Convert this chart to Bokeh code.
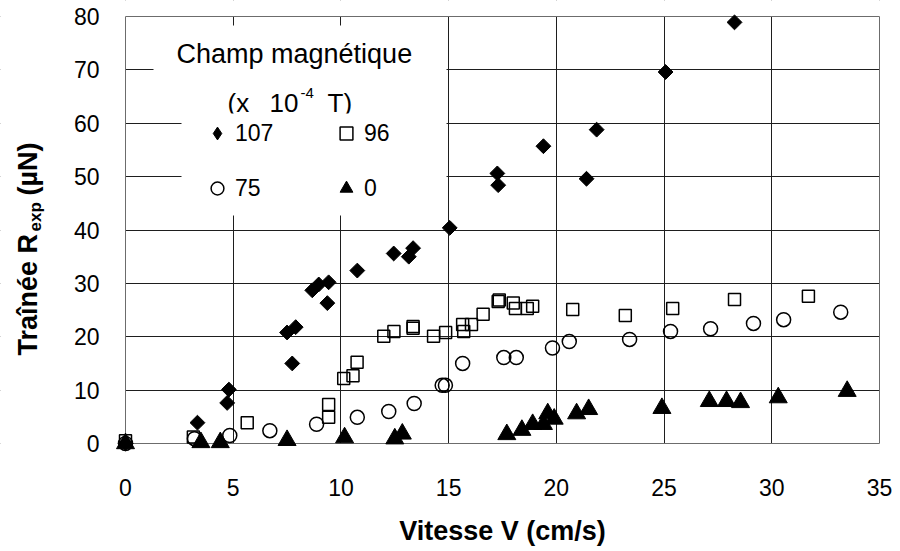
import numpy as np
from bokeh.plotting import figure
from bokeh.models import Range1d, FixedTicker, BoxAnnotation, Label, Legend, LegendItem
from bokeh.embed import file_html
from bokeh.resources import INLINE

# ---------------- data ----------------
x_ticks = [0, 5, 10, 15, 20, 25, 30, 35]
y_ticks = [0, 10, 20, 30, 40, 50, 60, 70, 80]

# B = 107 x 1e-4 T
v_107 = [0.0, 3.34, 4.72, 4.80, 7.50, 7.74, 7.90, 8.67, 8.97, 9.37, 9.43, 10.76,
         12.45, 13.15, 13.35, 15.05, 17.26, 17.30, 19.40, 21.40, 21.87, 25.07, 28.27]
r_107 = [0.0, 3.9, 7.6, 10.1, 20.8, 15.0, 21.8, 28.7, 29.8, 26.3, 30.2, 32.4,
         35.6, 35.0, 36.6, 40.4, 50.6, 48.4, 55.7, 49.6, 58.8, 69.6, 78.9]

# B = 96 x 1e-4 T
v_96 = [0.0, 3.15, 5.65, 9.43, 9.43, 10.13, 10.56, 10.75, 11.99, 12.46, 13.35, 13.35,
        14.30, 14.86, 15.65, 15.70, 16.06, 16.60, 17.30, 17.35, 18.00, 18.10, 18.65,
        18.90, 20.76, 23.20, 25.40, 28.27, 31.70]
r_96 = [0.5, 1.2, 3.9, 4.9, 7.3, 12.2, 12.7, 15.2, 20.1, 21.0, 21.6, 21.9,
        20.1, 20.8, 22.3, 21.0, 22.3, 24.2, 26.6, 26.9, 26.3, 25.3, 25.3,
        25.7, 25.1, 24.0, 25.3, 27.0, 27.6]

# B = 75 x 1e-4 T
v_75 = [0.0, 3.20, 4.84, 6.70, 8.87, 10.76, 12.22, 13.40, 14.70, 14.85, 15.65, 17.56,
        18.14, 19.82, 20.60, 23.40, 25.30, 27.16, 29.15, 30.55, 33.20]
r_75 = [0.0, 0.9, 1.5, 2.4, 3.6, 4.9, 6.0, 7.5, 10.9, 10.9, 15.0, 16.1,
        16.1, 17.9, 19.1, 19.5, 21.0, 21.5, 22.5, 23.2, 24.6]

# B = 0
v_0 = [0.0, 3.50, 4.40, 7.50, 10.17, 12.50, 12.85, 17.70, 18.40, 18.90, 19.40, 19.60,
       19.90, 20.94, 21.50, 24.90, 27.10, 27.90, 28.55, 30.30, 33.50]
r_0 = [0.0, 0.2, 0.2, 0.6, 1.1, 0.9, 1.8, 1.7, 2.5, 3.6, 3.6, 5.6,
       4.6, 5.6, 6.4, 6.6, 7.9, 7.9, 7.7, 8.6, 9.8]

# ---------------- layout ----------------
W, H = 900, 551
XMIN, XMAX, YMIN, YMAX = 0, 35, 0, 80
BOX_L, BOX_R, BOX_T, BOX_B = 125, 879, 16, 443   # pixel box of the data area
XU = (BOX_R - BOX_L) / (XMAX - XMIN)
YU = (BOX_B - BOX_T) / (YMAX - YMIN)


def dx(px):
    return XMIN + (px - BOX_L) / XU


def dy(py):
    return YMIN + (BOX_B - py) / YU


FONT = "Liberation Sans"
INK = "#1e1e1e"
BASE_SHIFT = 0.31   # label anchor correction (fraction of font size)

p = figure(width=W, height=H, x_range=Range1d(dx(0), dx(W)), y_range=Range1d(dy(H), dy(0)),
           output_backend="svg", toolbar_location=None,
           min_border_left=0, min_border_right=0, min_border_top=0, min_border_bottom=0)
p.title.visible = False
p.outline_line_color = None
p.background_fill_color = "white"
p.border_fill_color = "white"

for ax, ticks in ((p.xaxis, x_ticks), (p.yaxis, y_ticks)):
    ax.ticker = FixedTicker(ticks=ticks)
    ax.fixed_location = 0
    ax.axis_line_color = None
    ax.major_tick_line_color = None
    ax.minor_tick_line_color = None
    ax.major_label_text_font = FONT
    ax.major_label_text_font_size = "23px"
    ax.major_label_text_color = "black"
p.xaxis.bounds = (XMIN, XMAX)
p.yaxis.bounds = (YMIN, YMAX)
p.xaxis.major_label_standoff = 29
p.yaxis.major_label_standoff = 20
p.xaxis.axis_label = "Vitesse V (cm/s)"
p.xaxis.axis_label_text_font = FONT
p.xaxis.axis_label_text_font_size = "27px"
p.xaxis.axis_label_text_font_style = "bold"
p.xaxis.axis_label_text_color = "black"
p.xaxis.axis_label_standoff = 17

p.xgrid.grid_line_color = INK
p.ygrid.grid_line_color = INK
p.xgrid.grid_line_width = 1
p.ygrid.grid_line_width = 1

# hide grid overshoot outside the data box, then draw the box border
for kw in (dict(right=XMIN), dict(top=YMIN), dict(bottom=YMAX), dict(left=XMAX)):
    p.add_layout(BoxAnnotation(fill_color="white", fill_alpha=1, line_color=None,
                               level="underlay", **kw))
p.add_layout(BoxAnnotation(left=XMIN, right=XMAX, bottom=YMIN, top=YMAX, fill_alpha=0,
                           line_color=INK, line_width=1, level="underlay"))

# ---------------- series ----------------
r107 = p.scatter(v_107, r_107, marker="square", angle=np.pi / 4, size=10.5,
                 fill_color="black", line_color="black", line_width=1)
r96 = p.scatter(v_96, r_96, marker="square", size=12, fill_color=None,
                line_color="black", line_width=1.5)
r75 = p.scatter(v_75, r_75, marker="circle", size=14, fill_color=None,
                line_color="black", line_width=1.5)
r0 = p.scatter(v_0, r_0, marker="triangle", size=18, fill_color="black",
               line_color="black", line_width=1)
# legend key for the 107 series (diamond shape, no visible point)
k107 = p.scatter(np.array([np.nan]), np.array([np.nan]), marker="diamond", size=12,
                 fill_color="black", line_color="black")


def text_label(px, py, text, size, bold=False, angle=0.0, align="left"):
    # px / py is the visual baseline position in pixels
    shift = BASE_SHIFT * size
    if angle:
        x, y = dx(px - shift), dy(py)
    else:
        x, y = dx(px), dy(py - shift)
    return Label(x=x, y=y, text=text, text_font=FONT, text_font_size=f"{size}px",
                 text_font_style="bold" if bold else "normal", text_color="black",
                 angle=angle, text_align=align, text_baseline="alphabetic")


# ---------------- legend block ----------------
p.add_layout(BoxAnnotation(left=dx(153), right=dx(446), top=dy(25), bottom=dy(116),
                           fill_color="white", fill_alpha=1, line_color=None))
p.add_layout(text_label(176, 62, "Champ magnétique", 27))
p.add_layout(text_label(227, 111, "(x", 26))
p.add_layout(text_label(269, 111, "10", 26))
p.add_layout(text_label(300, 97, "-4", 15))
p.add_layout(text_label(327, 111, "T)", 26))
p.add_layout(BoxAnnotation(left=dx(181), right=dx(446), top=dy(113), bottom=dy(215),
                           fill_color="white", fill_alpha=1, line_color=None))


def make_legend(items, glyph_center_px):
    return Legend(items=items, location=(glyph_center_px - 16, H - 204), orientation="vertical",
                  glyph_width=32, glyph_height=32, label_standoff=2, spacing=23,
                  padding=0, margin=0, border_line_color=None, background_fill_alpha=0,
                  label_text_font=FONT, label_text_font_size="23px",
                  label_text_color="black")


p.add_layout(make_legend([LegendItem(label="107", renderers=[k107]),
                          LegendItem(label="75", renderers=[r75])], 217))
p.add_layout(make_legend([LegendItem(label="96", renderers=[r96]),
                          LegendItem(label="0", renderers=[r0])], 346))

# ---------------- y axis title (with subscript) ----------------
p.add_layout(text_label(36, 355, "Traînée R", 27, bold=True, angle=np.pi / 2))
p.add_layout(text_label(40, 231, "exp", 17, bold=True, angle=np.pi / 2))
p.add_layout(text_label(36, 195, "(µN)", 27, bold=True, angle=np.pi / 2))

open("out.html", "w").write(file_html(p, INLINE))
